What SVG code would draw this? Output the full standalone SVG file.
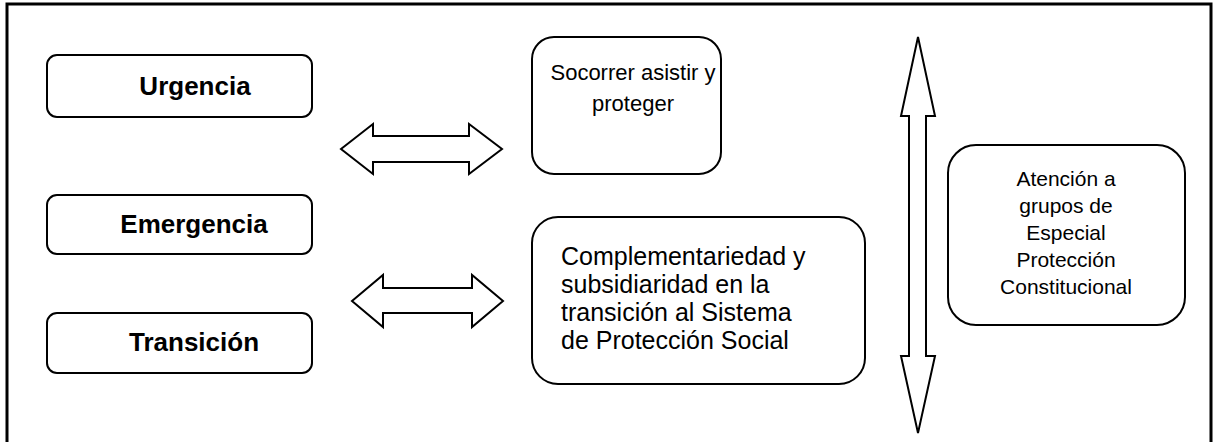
<svg xmlns="http://www.w3.org/2000/svg" width="1217" height="442" viewBox="0 0 1217 442">
<style>
.box{fill:#fff;stroke:#000;stroke-width:2}
.arr{fill:#fff;stroke:#000;stroke-width:2;stroke-linejoin:miter}
.lbl{font-family:"Liberation Sans",Arial,sans-serif;font-weight:bold;font-size:26px;fill:#000;text-anchor:middle}
.txt{font-family:"Liberation Sans",Arial,sans-serif;font-size:25px;fill:#000}
.soc{font-family:"Liberation Sans",Arial,sans-serif;font-size:22px;fill:#000;text-anchor:middle}
.sm{font-family:"Liberation Sans",Arial,sans-serif;font-size:21px;fill:#000;text-anchor:middle}
</style>
<rect width="1217" height="442" fill="#fff"/>
<path d="M7,450 V4 H1211 V450" fill="none" stroke="#000" stroke-width="3"/>
<g id="urgencia"><rect class="box" x="47" y="55" width="265" height="62" rx="10"/><text class="lbl" x="195" y="95">Urgencia</text></g>
<g id="emergencia"><rect class="box" x="47" y="195" width="265" height="59" rx="10"/><text class="lbl" x="194" y="233">Emergencia</text></g>
<g id="transicion"><rect class="box" x="47" y="313" width="265" height="60" rx="10"/><text class="lbl" x="194" y="351">Transición</text></g>
<g id="socorrer"><rect class="box" x="532" y="37" width="189" height="137" rx="22"/><text class="soc"><tspan x="633" y="80">Socorrer asistir y</tspan><tspan x="633" y="111">proteger</tspan></text></g>
<g id="complementariedad"><rect class="box" x="532" y="217" width="333" height="167" rx="26"/><text class="txt"><tspan x="561" y="265">Complementariedad y</tspan><tspan x="561" y="293">subsidiaridad en la</tspan><tspan x="561" y="321">transición al Sistema</tspan><tspan x="561" y="349">de Protección Social</tspan></text></g>
<g id="atencion"><rect class="box" x="948" y="145" width="237" height="180" rx="28"/><text class="sm"><tspan x="1066" y="186">Atención a</tspan><tspan x="1066" y="213">grupos de</tspan><tspan x="1066" y="240">Especial</tspan><tspan x="1066" y="267">Protección</tspan><tspan x="1066" y="294">Constitucional</tspan></text></g>
<g id="connectors">
<path class="arr" d="M341,149 L373,124 V136 H469 V124 L502,149 L469,174 V162 H373 V174 Z"/>
<path class="arr" d="M352,301 L383,275 V288 H472 V275 L503,301 L472,327 V313 H383 V327 Z"/>
<path class="arr" d="M918,37 L935,116 H926 V356 H935 L918,433 L901,356 H909 V116 H901 Z"/>
</g>
</svg>
